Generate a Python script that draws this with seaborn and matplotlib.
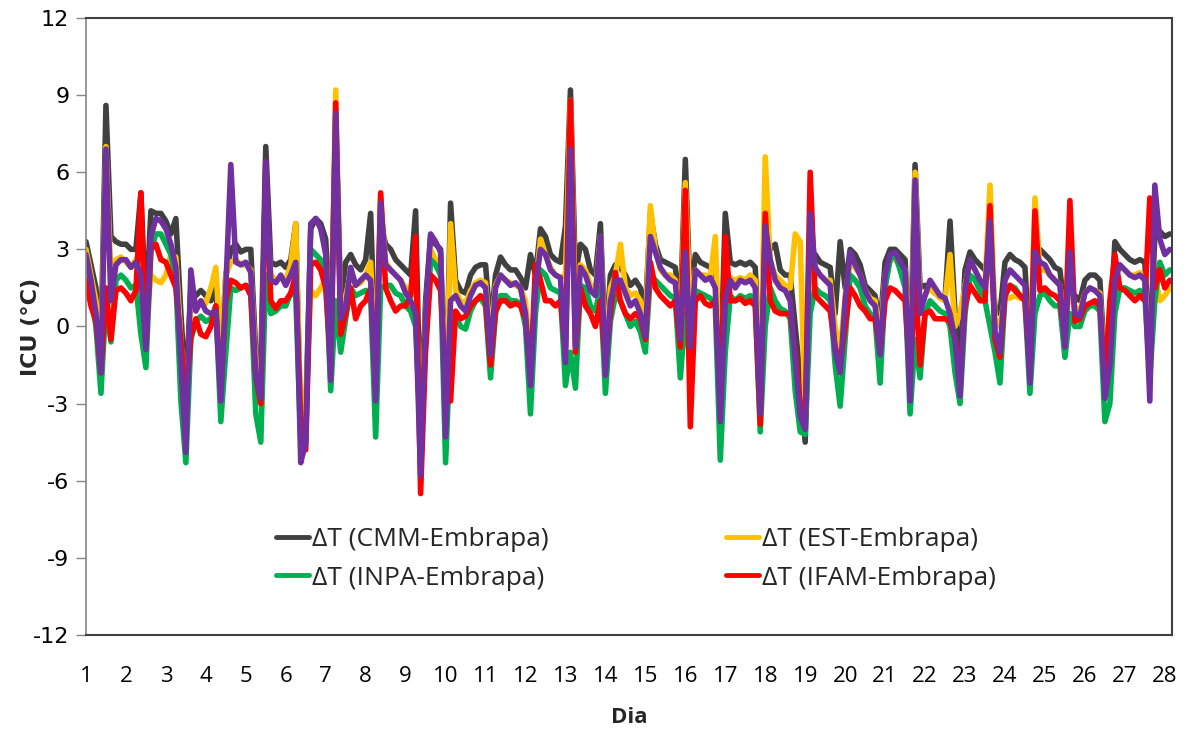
import numpy as np
import pandas as pd
import matplotlib
matplotlib.use("Agg")
import matplotlib.pyplot as plt
import seaborn as sns

# ICU (deltaT) series, 8 samples per day (every 3 h), day 1 .. day 28
cmm = [
    3.3, 2.4, 1.5, -0.8, 8.6, 3.5, 3.3, 3.2,
    3.2, 3.0, 3.0, 5.2, 0.5, 4.5, 4.4, 4.4,
    4.1, 3.6, 4.2, 0.5, -2.5, 1.5, 1.2, 1.4,
    1.2, 1.0, 1.5, -1.5, 2.0, 3.0, 3.2, 2.9,
    3.0, 3.0, -1.0, -1.5, 7.0, 2.5, 2.4, 2.5,
    2.3, 2.6, 4.0, -4.0, -3.5, 3.8, 4.2, 4.0,
    3.4, -0.5, 8.0, 1.0, 2.5, 2.8, 2.4, 2.2,
    2.6, 4.4, -1.5, 4.0, 3.2, 3.0, 2.6, 2.4,
    2.2, 2.0, 4.5, -4.0, 1.0, 3.5, 3.2, 3.0,
    -3.5, 4.8, 1.8, 1.4, 1.3, 2.0, 2.3, 2.4,
    2.4, 0.0, 2.0, 2.7, 2.4, 2.2, 2.2, 1.9,
    1.5, 2.8, 2.0, 3.8, 3.5, 2.8, 2.6, 2.5,
    3.9, 9.2, 2.0, 3.2, 3.0, 2.2, 2.0, 4.0,
    -0.8, 2.0, 2.4, 2.3, 2.0, 1.6, 1.8, 1.5,
    0.6, 4.4, 3.2, 2.6, 2.5, 2.4, 2.3, 0.5,
    6.5, 1.0, 2.8, 2.5, 2.4, 2.3, 2.0, -2.0,
    4.4, 2.5, 2.4, 2.5, 2.4, 2.5, 2.3, -2.0,
    3.9, 3.0, 3.2, 2.2, 2.0, 2.0, 0.0, -2.0,
    -4.5, 2.8, 2.8, 2.5, 2.4, 2.3, 0.5, 3.3,
    1.5, 3.0, 2.8, 2.4, 1.6, 1.4, 1.2, 0.0,
    2.5, 3.0, 3.0, 2.8, 2.6, -1.5, 6.3, 1.5,
    1.6, 1.5, 1.3, 1.2, 1.1, 4.1, 0.5, -1.5,
    2.2, 2.9, 2.6, 2.4, 2.2, 3.0, 0.8, 0.5,
    2.5, 2.8, 2.6, 2.5, 2.3, -1.0, 2.8, 3.0,
    2.8, 2.6, 2.3, 2.2, 0.5, 1.5, 1.2, 1.0,
    1.8, 2.0, 2.0, 1.8, -1.5, -0.5, 3.3, 3.0,
    2.8, 2.6, 2.5, 2.6, 2.5, -1.0, 3.5, 3.7,
    3.5, 3.6,
]
est = [
    3.0, 2.0, 1.0, -1.2, 7.0, 2.0, 2.6, 2.7,
    2.5, 2.3, 2.6, 3.0, 0.0, 2.0, 1.8, 1.7,
    2.0, 2.8, 2.7, -0.5, -3.5, 1.0, 0.8, 1.0,
    0.9, 1.5, 2.3, -1.0, 2.0, 2.5, 2.6, 2.4,
    2.4, 2.2, -1.5, -2.0, 5.0, 2.0, 1.8, 1.9,
    1.8, 2.4, 4.0, -3.5, -3.0, 1.4, 1.2, 1.5,
    1.8, -1.0, 9.2, 0.5, 1.2, 2.0, 1.6, 1.7,
    2.0, 2.5, -2.0, 5.1, 2.5, 2.2, 2.0, 1.8,
    1.5, 1.5, 2.0, -4.8, 0.5, 3.0, 2.6, 2.4,
    -3.5, 4.0, 1.4, 1.0, 0.9, 1.4, 1.7, 1.8,
    1.7, -0.5, 1.6, 2.0, 1.8, 1.7, 1.6, 1.5,
    1.0, -1.5, 1.5, 3.4, 2.8, 2.3, 2.0, 1.9,
    2.0, 8.8, 0.5, 2.4, 2.2, 1.6, 1.4, 3.5,
    -1.2, 1.5, 2.0, 3.2, 1.5, 1.2, 1.3, 1.0,
    0.0, 4.7, 3.0, 2.2, 2.0, 2.0, 1.8, 0.0,
    5.6, 0.5, 2.2, 2.0, 2.0, 1.9, 3.5, -2.5,
    2.0, 1.9, 1.8, 1.9, 1.8, 2.0, 1.8, -2.5,
    6.6, 2.5, 2.0, 1.8, 1.6, 1.5, 3.6, 3.3,
    -3.5, 2.2, 2.2, 2.0, 1.8, 1.8, 0.0, -1.0,
    1.2, 2.5, 2.3, 2.0, 1.4, 1.1, 1.0, -0.5,
    2.0, 2.6, 2.6, 2.4, 2.2, -2.0, 6.0, 1.0,
    1.2, 1.5, 1.3, 1.1, 1.0, 2.8, 0.0, 0.5,
    1.6, 2.5, 2.2, 1.8, 1.6, 5.5, 0.3, 0.0,
    1.2, 1.1, 1.2, 1.1, 1.3, -1.5, 5.0, 2.2,
    2.2, 2.0, 1.8, 1.6, 0.0, 1.5, 0.8, 0.6,
    1.3, 1.5, 1.4, 1.3, -2.0, -1.0, 2.5, 2.3,
    2.2, 2.0, 2.0, 2.1, 1.8, -1.5, 2.0, 1.0,
    1.2, 1.5,
]
inpa = [
    2.2, 1.2, 0.0, -2.6, 1.0, -0.6, 1.8, 2.0,
    1.8, 1.5, 1.6, -0.3, -1.6, 3.0, 3.6, 3.6,
    3.2, 2.8, 1.8, -2.9, -5.3, -0.5, 0.2, 0.4,
    0.2, 0.3, 0.8, -3.7, -1.0, 1.5, 1.4, 1.5,
    1.6, 1.3, -3.4, -4.5, 2.0, 0.5, 0.6, 0.8,
    0.8, 1.3, 1.2, -4.4, -4.4, 3.0, 2.8, 2.6,
    2.2, -2.5, 1.0, -1.0, 0.3, 1.5, 1.2, 1.3,
    1.4, 1.2, -4.3, 1.5, 1.6, 1.6, 1.3, 1.2,
    0.8, 0.6, 0.0, -4.3, -0.8, 2.6, 2.4, 2.0,
    -5.3, -0.5, 0.4, 0.0, -0.1, 0.6, 1.0, 1.1,
    0.8, -2.0, 0.5, 1.2, 1.2, 1.0, 1.0, 0.9,
    0.0, -3.4, 0.5, 2.2, 2.0, 1.5, 1.4, 1.3,
    -2.3, -1.0, -2.4, 1.6, 1.5, 0.8, 0.6, 1.5,
    -2.6, 0.2, 1.2, 1.0, 0.5, 0.0, 0.2, -0.2,
    -1.0, 2.0, 1.8, 1.6, 1.4, 1.2, 1.1, -2.0,
    0.5, -1.5, 1.4, 1.3, 1.2, 1.1, 0.8, -5.2,
    -1.0, 1.2, 1.0, 1.2, 1.1, 1.2, 1.0, -4.1,
    0.0, 1.5, 1.0, 0.7, 0.6, 0.3, -2.5, -4.1,
    -4.2, 0.5, 1.5, 1.3, 1.2, 1.0, -1.5, -3.1,
    -0.5, 2.0, 1.8, 1.5, 0.8, 0.5, 0.3, -2.2,
    1.5, 2.6, 2.8, 2.2, 1.5, -3.4, -0.5, -2.0,
    0.5, 1.0, 0.8, 0.6, 0.5, 0.0, -1.8, -3.0,
    0.5, 2.0, 1.8, 1.4, 1.0, 0.0, -1.0, -2.2,
    1.2, 1.6, 1.5, 1.2, 1.0, -2.6, 0.5, 1.2,
    1.3, 1.0, 0.8, 0.8, -1.2, 0.5, 0.0, 0.0,
    0.6, 0.8, 0.8, 0.6, -3.7, -3.0, 0.5, 1.5,
    1.5, 1.4, 1.3, 1.4, 1.2, -2.0, 1.0, 2.5,
    2.0, 2.2,
]
ifam = [
    1.8, 0.8, 0.2, -1.8, 1.5, -0.5, 1.4, 1.5,
    1.3, 1.0, 1.4, 5.2, -0.8, 3.0, 3.2, 2.6,
    2.5, 2.0, 1.5, -0.5, -3.0, -0.4, 0.3, -0.3,
    -0.4, 0.0, 0.8, -2.5, 1.0, 1.8, 1.7, 1.5,
    1.6, 1.2, -2.0, -3.0, 6.4, 1.0, 0.7, 1.0,
    1.0, 1.3, 2.0, -3.7, -4.8, 2.4, 2.5, 2.2,
    1.5, -1.5, 8.7, -0.3, 0.5, 1.5, 0.3, 0.8,
    1.0, 1.5, -2.5, 5.2, 1.5, 1.0, 0.6, 0.8,
    0.8, 1.2, 3.5, -6.5, -0.9, 2.0, 1.8, 1.4,
    -2.0, -2.9, 0.6, 0.3, 0.4, 0.8, 1.0, 1.2,
    1.0, -1.5, 0.6, 1.0, 1.0, 0.8, 0.9, 0.8,
    0.3, -2.0, 2.4, 1.8, 1.0, 1.0, 0.8, 1.0,
    -1.0, 8.8, -1.0, 1.5, 0.8, 0.5, 0.0, 1.0,
    -1.5, 0.5, 2.1, 1.0, 0.5, 0.3, 0.5, 0.3,
    -0.5, 2.5, 1.5, 1.2, 1.0, 0.8, 1.0, -0.8,
    5.3, -3.9, 1.0, 1.2, 0.9, 0.8, 1.0, -2.8,
    3.5, 1.0, 1.0, 1.1, 0.9, 1.0, 0.8, -3.8,
    4.4, 1.0, 0.6, 0.5, 0.5, 0.5, -1.0, -3.0,
    -3.8, 6.0, 1.2, 1.0, 0.8, 0.6, -0.8, -1.5,
    0.0, 1.5, 1.2, 0.8, 0.6, 0.3, 0.3, -1.0,
    1.0, 1.5, 1.4, 1.2, 1.0, -2.0, 2.0, -1.5,
    0.5, 0.6, 0.3, 0.3, 0.3, 0.2, -0.5, -2.0,
    0.8, 1.6, 1.3, 1.0, 1.0, 4.7, -0.5, -1.2,
    1.2, 1.6, 1.4, 1.2, 1.0, -1.8, 4.5, 1.4,
    1.5, 1.3, 1.2, 1.0, -0.5, 4.9, 0.2, 0.3,
    0.8, 0.9, 1.0, 0.8, -2.2, 1.0, 2.8, 1.5,
    1.4, 1.2, 1.0, 1.2, 1.0, 5.0, 1.5, 2.2,
    1.5, 1.8,
]
# fifth series (purple), not listed in the legend
extra = [
    2.8, 1.8, 0.5, -1.8, 6.9, 1.0, 2.4, 2.6,
    2.6, 2.3, 2.5, 2.0, -0.9, 3.5, 4.2, 4.1,
    3.8, 3.2, 2.3, -1.4, -4.9, 2.2, 0.6, 1.0,
    0.6, 0.5, 0.6, -2.9, 1.5, 6.3, 2.5, 2.4,
    2.5, 2.1, -2.0, -2.8, 6.4, 1.8, 1.7, 2.0,
    1.6, 2.0, 2.5, -5.3, -4.5, 4.0, 4.2, 3.8,
    2.8, -2.1, 8.3, 0.3, 0.8, 2.3, 1.6, 1.8,
    2.0, 1.8, -2.9, 4.8, 2.4, 2.2, 2.0, 1.8,
    1.3, 1.0, 0.5, -5.8, 0.5, 3.6, 3.3, 2.9,
    -4.3, 1.0, 1.2, 0.8, 0.6, 1.2, 1.6, 1.7,
    1.5, -1.1, 1.5, 2.0, 1.8, 1.6, 1.7, 1.5,
    0.5, -2.3, 1.5, 3.0, 2.8, 2.2, 2.0, 1.9,
    -1.4, 6.9, -0.8, 2.3, 2.0, 1.4, 1.2, 3.5,
    -1.9, 1.0, 1.8, 1.8, 1.3, 0.8, 1.0, 0.5,
    -0.4, 3.5, 2.9, 2.3, 2.0, 1.8, 1.7, -0.5,
    2.9, -0.8, 2.2, 2.0, 1.8, 1.9, 1.5, -3.7,
    1.0, 1.8, 1.5, 1.8, 1.7, 1.8, 1.5, -3.4,
    3.9, 2.6, 1.8, 1.5, 1.4, 1.0, -1.3, -3.5,
    -4.0, 4.4, 2.3, 2.0, 1.8, 1.6, -1.0, -1.8,
    1.0, 2.9, 2.4, 2.0, 1.4, 1.0, 0.8, -1.1,
    2.0, 2.8, 2.9, 2.5, 2.2, -2.9, 5.7, 0.5,
    1.2, 1.8, 1.5, 1.2, 1.1, 0.5, -0.5, -2.7,
    1.5, 2.6, 2.2, 1.8, 1.5, 4.1, -0.2, -1.0,
    1.8, 2.2, 2.0, 1.8, 1.6, -2.2, 2.9, 2.5,
    2.4, 2.0, 1.8, 1.6, -0.8, 2.9, 0.5, 0.4,
    1.3, 1.5, 1.4, 1.2, -2.8, -1.5, 1.8, 2.4,
    2.2, 2.0, 1.9, 2.0, 1.8, -2.9, 5.5, 3.4,
    2.8, 3.0,
]

labels = ["ΔT (CMM-Embrapa)", "ΔT (EST-Embrapa)", "ΔT (INPA-Embrapa)",
          "ΔT (IFAM-Embrapa)", "_nolegend_"]
colors = ["#404040", "#FFC000", "#00B050", "#FF0000", "#7030A0"]
day_ticks = list(range(1, 29))
y_ticks = [-12, -9, -6, -3, 0, 3, 6, 9, 12]

samples_per_day = 8
dia = 1 + np.arange(len(cmm)) / samples_per_day
df = pd.DataFrame({"dia": dia, "cmm": cmm, "est": est, "inpa": inpa,
                   "ifam": ifam, "extra": extra})

sns.set_theme(style="white")
plt.rcParams["font.family"] = ["DejaVu Sans"]
plt.rcParams["axes.unicode_minus"] = False
narrow = ["Liberation Sans Narrow", "Open Sans", "DejaVu Sans"]

fig = plt.figure(figsize=(11.89, 7.29), dpi=100)
ax = fig.add_axes([0.0723, 0.129, 0.9134, 0.8463])

for col, lab, c in zip(["cmm", "est", "inpa", "ifam", "extra"], labels, colors):
    sns.lineplot(data=df, x="dia", y=col, color=c, lw=4.0, label=lab, ax=ax,
                 solid_joinstyle="round", solid_capstyle="round")

ax.set_xlim(1, 28.18)
ax.set_ylim(-12, 12)
ax.set_yticks(y_ticks)
ax.set_xticks(day_ticks)
ax.set_xticklabels([str(d) for d in day_ticks], family=narrow, fontsize=16)
ax.tick_params(axis="x", length=0, pad=22, colors="black")
ax.tick_params(axis="y", direction="out", length=7, width=1, color="#868686",
               labelsize=16, labelcolor="black", pad=5, left=True)

for s in ["top", "right", "bottom"]:
    ax.spines[s].set_color("#404040")
    ax.spines[s].set_linewidth(1.5)
ax.spines["left"].set_color("#868686")
ax.spines["left"].set_linewidth(1.2)

ax.set_xlabel("Dia", family=narrow, fontsize=16, fontweight="bold", labelpad=15)
ax.set_ylabel("ICU (°C)", fontsize=16, fontweight="bold")
ax.yaxis.set_label_coords(-0.041, 0.5)

handles, labs = ax.get_legend_handles_labels()
order = [0, 2, 1, 3]
leg = ax.legend([handles[i] for i in order], [labs[i] for i in order], ncol=2,
                loc="upper left", bbox_to_anchor=(0.175, 0.175), frameon=False,
                prop={"family": narrow, "size": 19}, handlelength=1.25,
                handletextpad=0.1, columnspacing=6.75, labelspacing=0.52,
                borderpad=0, borderaxespad=0)
for h in leg.get_lines():
    h.set_linewidth(3.5)

fig.savefig("out.png", dpi=100)
